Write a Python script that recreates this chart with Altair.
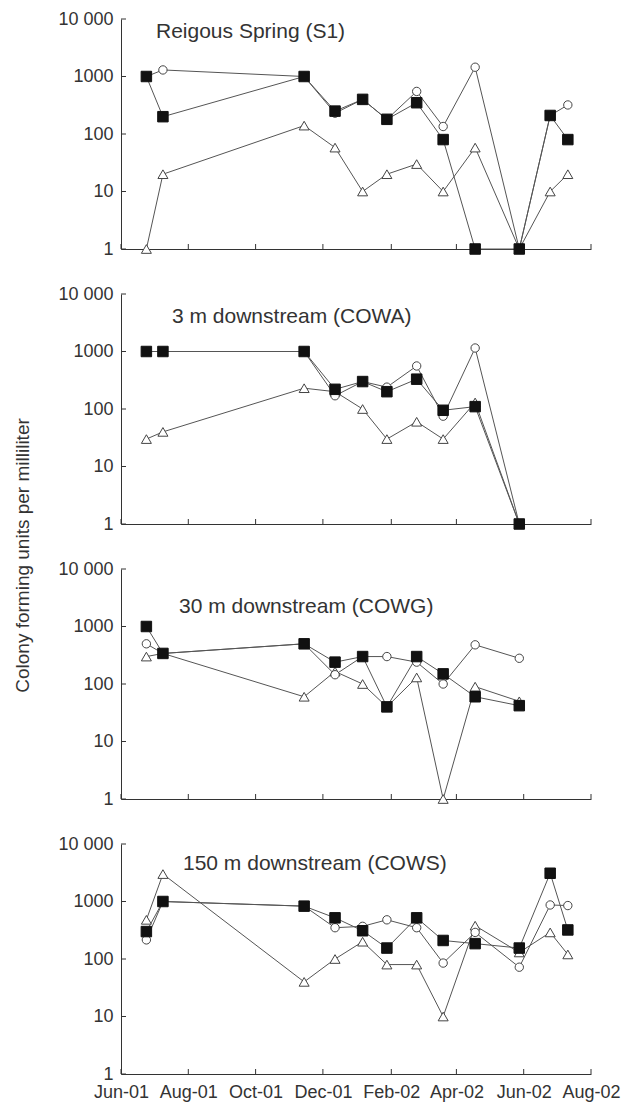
import altair as alt
import pandas as pd

# ---------------- data ----------------
dates = ["2001-06-24", "2001-07-09", "2001-11-14", "2001-12-12", "2002-01-06", "2002-01-28",
         "2002-02-24", "2002-03-20", "2002-04-18", "2002-05-28", "2002-06-25", "2002-07-11"]

panel_titles = ["Reigous  Spring (S1)", "3 m downstream (COWA)",
                "30 m downstream (COWG)", "150 m downstream (COWS)"]

s1_square = [1000, 200, 1000, 250, 400, 180, 350, 80, 1, 1, 210, 80]
s1_circle = [1000, 1300, 1000, 230, 400, 180, 550, 135, 1450, 1, 210, 320]
s1_triangle = [1, 20, 140, 58, 10, 20, 30, 10, 58, 1, 10, 20]

cowa_square = [1000, 1000, 1000, 220, 300, 200, 330, 95, 110, 1]
cowa_circle = [1000, 1000, 1000, 170, 300, 240, 560, 75, 1150, 1]
cowa_triangle = [30, 40, 230, 200, 100, 30, 60, 30, 130, 1]

cowg_square = [1000, 340, 500, 240, 300, 40, 300, 150, 60, 42]
cowg_circle = [500, 340, 500, 145, 300, 300, 240, 100, 480, 280]
cowg_triangle = [300, 340, 60, 165, 100, 40, 130, 1, 90, 50]

cows_square = [300, 1000, 830, 520, 310, 155, 520, 210, 185, 155, 3100, 320]
cows_circle = [215, 1000, 830, 350, 370, 480, 350, 85, 290, 72, 870, 850]
cows_triangle = [480, 3000, 40, 100, 200, 80, 80, 10, 380, 130, 290, 120]

y_ticks = [1, 10, 100, 1000, 10000]
y_tick_labels = ["1", "10", "100", "1000", "10 000"]

x_ticks = ["2001-06-01", "2001-08-01", "2001-10-01", "2001-12-01",
           "2002-02-01", "2002-04-01", "2002-06-01", "2002-08-01"]
x_tick_labels = ["Jun-01", "Aug-01", "Oct-01", "Dec-01", "Feb-02", "Apr-02", "Jun-02", "Aug-02"]

y_title = "Colony forming units per milliliter"

panels = [
    (s1_square, s1_circle, s1_triangle),
    (cowa_square, cowa_circle, cowa_triangle),
    (cowg_square, cowg_circle, cowg_triangle),
    (cows_square, cows_circle, cows_triangle),
]

# ---------------- styling ----------------
W, H = 470, 230
FONT = "Liberation Sans"
TXT = "#333333"
LINE = "#555555"
title_pos = [(35, 13), (51, 23), (58, 38), (62, 20)]

x_ms = [int(pd.Timestamp(d, tz="UTC").timestamp() * 1000) for d in x_ticks]
x_label_expr = "".join(f"time(datum.value) == {m} ? '{l}' : " for m, l in zip(x_ms, x_tick_labels)) + "''"
y_label_expr = "".join(f"datum.value == {v} ? '{l}' : " for v, l in zip(y_ticks, y_tick_labels)) + "''"

xscale = alt.Scale(type="utc", domain=[x_ms[0], x_ms[-1]], nice=False)
yscale = alt.Scale(type="log", domain=[y_ticks[0], y_ticks[-1]], nice=False)

tick_df_y = pd.DataFrame({"v": y_ticks})
tick_df_x = pd.DataFrame({"d": x_ticks})


def make_panel(i, sq, ci, tr, show_labels):
    n = len(sq)
    rows = []
    for name, vals in (("triangle", tr), ("circle", ci), ("square", sq)):
        for d, v in zip(dates[:n], vals):
            rows.append({"date": d, "value": v, "series": name})
    df = pd.DataFrame(rows)

    xaxis = alt.Axis(values=x_ms, labelExpr=x_label_expr, labels=show_labels, ticks=False,
                     grid=False, title=None, domainColor="#333", labelFontSize=18,
                     labelFont=FONT, labelColor=TXT, labelPadding=9, labelFlush=False,
                     labelOverlap=False)
    yaxis = alt.Axis(values=y_ticks, labelExpr=y_label_expr, ticks=False, grid=False,
                     title=None, domainColor="#333", labelFontSize=18, labelFont=FONT,
                     labelColor=TXT, labelPadding=8, labelFlush=False)

    x = alt.X("date:T", scale=xscale, axis=xaxis)
    y = alt.Y("value:Q", scale=yscale, axis=yaxis)

    base = alt.Chart(df)
    lines = base.mark_line(color=LINE, strokeWidth=1, clip=False).encode(
        x=x, y=y, detail="series:N")
    tri = base.transform_filter(alt.datum.series == "triangle").mark_point(
        shape="triangle-up", size=100, filled=True, fill="white", stroke="#444",
        strokeWidth=1, opacity=1).encode(x=x, y=y)
    cir = base.transform_filter(alt.datum.series == "circle").mark_point(
        shape="circle", size=70, filled=True, fill="white", stroke="#444",
        strokeWidth=1, opacity=1).encode(x=x, y=y)
    squ = base.transform_filter(alt.datum.series == "square").mark_point(
        shape="square", size=110, filled=True, fill="#111", stroke="#111",
        strokeWidth=1, opacity=1).encode(x=x, y=y)

    yt = alt.Chart(tick_df_y).mark_rule(color="#333", strokeWidth=1).encode(
        y=alt.Y("v:Q", scale=yscale, axis=yaxis), x=alt.value(0), x2=alt.value(5))
    xt = alt.Chart(tick_df_x).mark_rule(color="#333", strokeWidth=1).encode(
        x=alt.X("d:T", scale=xscale, axis=xaxis), y=alt.value(H), y2=alt.value(H - 5))

    tx, ty = title_pos[i]
    title = alt.Chart(pd.DataFrame({"t": [panel_titles[i]]})).mark_text(
        align="left", baseline="middle", fontSize=21, font=FONT, color=TXT).encode(
        text="t:N", x=alt.value(tx), y=alt.value(ty))

    return alt.layer(lines, yt, xt, tri, cir, squ, title).properties(width=W, height=H)


charts = [make_panel(i, *p, show_labels=(i == 3)) for i, p in enumerate(panels)]

chart = alt.vconcat(*charts, spacing=45, bounds="flush").properties(
    title=alt.TitleParams(text=y_title, orient="left", anchor="middle", fontSize=19,
                          font=FONT, fontWeight="normal", color=TXT, offset=25),
    padding={"left": 5, "top": 2, "right": 0, "bottom": 8},
).configure(background="white").configure_view(stroke="transparent", strokeWidth=0)

chart.save("out.html", embed_options={"renderer": "svg", "actions": False})
